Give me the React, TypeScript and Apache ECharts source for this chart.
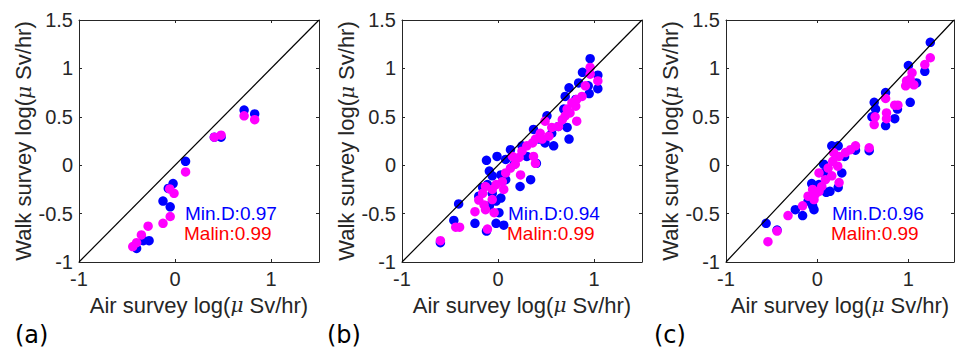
import React, { useEffect, useRef } from "react";
import * as echarts from "echarts";

const xTickLabels = ["-1", "0", "1"];
const yTickLabels = ["-1", "-0.5", "0", "0.5", "1", "1.5"];
const panelTags = ["(a)", "(b)", "(c)"];
const minDLabels = ["Min.D:0.97", "Min.D:0.94", "Min.D:0.96"];
const malinLabels = ["Malin:0.99", "Malin:0.99", "Malin:0.99"];

const diagonal: [number, number][] = [[-1, -1], [1.5, 1.5]];

const minD_a: [number, number][] = [
  [0.72, 0.57], [0.83, 0.53], [0.41, 0.29], [0.48, 0.29], [0.11, 0.04],
  [-0.02, -0.19], [-0.125, -0.37], [-0.05, -0.43], [-0.07, -0.24],
  [-0.27, -0.78], [-0.33, -0.78], [-0.40, -0.86],
];
const malin_a: [number, number][] = [
  [0.72, 0.51], [0.83, 0.47], [0.41, 0.29], [0.48, 0.31], [0.11, -0.07],
  [-0.055, -0.245], [-0.01, -0.29], [-0.05, -0.53], [-0.125, -0.6],
  [-0.28, -0.63], [-0.35, -0.72], [-0.40, -0.80], [-0.44, -0.84],
];

const minD_b: [number, number][] = [
  [0.96, 1.10], [0.88, 0.96], [1.04, 0.93], [1.04, 0.79], [0.74, 0.80],
  [0.70, 0.71], [0.95, 0.74], [0.94, 0.82], [0.685, 0.58], [0.51, 0.51],
  [0.72, 0.39], [0.74, 0.27], [0.37, 0.37], [0.25, 0.20], [0.13, 0.16],
  [0.43, 0.27], [0.58, 0.20], [0.49, 0.23], [0.40, 0.02], [0.30, 0.09],
  [0.17, 0.01], [0.23, -0.22], [0.34, -0.15], [-0.12, 0.05], [-0.01, 0.09],
  [-0.09, -0.06], [-0.06, -0.11], [0.08, 0.06], [0.03, -0.10], [-0.16, -0.23],
  [-0.11, -0.20], [-0.06, -0.29], [0.03, -0.34], [-0.02, -0.37], [-0.20, -0.32],
  [-0.09, -0.42], [-0.41, -0.40], [-0.46, -0.57], [-0.24, -0.60], [-0.12, -0.68],
  [-0.02, -0.60], [0.06, -0.62], [0.01, -0.49], [-0.60, -0.80], [0.08, -0.15],
  [0.63, 0.40], [0.56, 0.33], [0.81, 0.68], [0.84, 0.85],
];
const malin_b: [number, number][] = [
  [0.96, 1.01], [0.96, 0.94], [1.04, 0.87], [0.91, 0.82], [0.875, 0.71],
  [0.82, 0.68], [0.81, 0.61], [0.75, 0.54], [0.70, 0.51], [0.67, 0.47],
  [0.82, 0.455], [0.63, 0.40], [0.49, 0.455], [0.44, 0.33], [0.39, 0.27],
  [0.36, 0.23], [0.30, 0.20], [0.25, 0.145], [0.37, 0.09], [0.39, 0.02],
  [0.22, 0.08], [0.18, 0.01], [0.235, -0.10], [0.13, -0.03], [0.08, -0.08],
  [0.045, -0.17], [0.06, -0.25], [-0.02, -0.20], [-0.06, -0.25], [-0.13, -0.22],
  [-0.16, -0.29], [-0.20, -0.36], [-0.145, -0.41], [-0.13, -0.46], [-0.24, -0.48],
  [-0.04, -0.49], [-0.06, -0.355], [-0.44, -0.64], [-0.40, -0.64], [-0.11, -0.66],
  [-0.60, -0.78], [0.77, 0.645], [0.72, 0.58], [0.56, 0.39], [0.53, 0.30],
  [0.46, 0.27], [0.15, 0.09],
];

const minD_c: [number, number][] = [
  [1.24, 1.27], [1.0, 1.03], [1.18, 0.97], [1.09, 0.85], [1.02, 0.65],
  [0.75, 0.75], [0.625, 0.65], [0.64, 0.58], [0.85, 0.48], [0.75, 0.41],
  [0.88, 0.58], [0.60, 0.50], [0.42, 0.155], [0.57, 0.15], [0.16, 0.20],
  [0.23, 0.20], [0.30, 0.09], [0.27, -0.08], [0.23, -0.23], [0.07, 0.01],
  [0.10, -0.28], [0.14, -0.27], [-0.06, -0.19], [-0.05, -0.42], [-0.035, -0.46],
  [-0.10, -0.37], [-0.24, -0.46], [-0.16, -0.52], [-0.56, -0.60], [-0.44, -0.67],
  [0.07, -0.08], [0.02, -0.20],
];
const malin_c: [number, number][] = [
  [1.24, 1.11], [1.18, 1.04], [1.04, 0.955], [1.02, 0.89], [0.98, 0.87],
  [0.97, 0.82], [1.06, 0.83], [0.75, 0.69], [0.76, 0.54], [0.76, 0.48],
  [0.85, 0.62], [0.635, 0.50], [0.625, 0.42], [0.885, 0.62], [0.57, 0.18],
  [0.42, 0.20], [0.365, 0.16], [0.31, 0.13], [0.24, 0.09], [0.18, 0.13],
  [0.17, 0.04], [0.12, -0.03], [0.16, -0.11], [0.09, -0.15], [0.05, -0.22],
  [0.02, -0.27], [-0.02, -0.30], [-0.10, -0.32], [0.02, -0.08], [0.24, -0.18],
  [-0.035, -0.355], [-0.16, -0.42], [-0.32, -0.52], [-0.54, -0.79], [-0.44, -0.68],
  [-0.05, -0.25], [0.225, -0.01],
];

const minDSets = [minD_a, minD_b, minD_c];
const malinSets = [malin_a, malin_b, malin_c];

const AXIS_COLOR = "#262626";
const BLUE = "#0000ff";
const MAGENTA = "#ff00ff";
const RED = "#ff0000";
const FONT = "'Liberation Sans', Arial, Helvetica, sans-serif";

const gridLefts = [79, 402, 726];
const tagLefts = [15, 327, 654];
const annLefts = [185, 508, 832];

export default function App() {
  const ref = useRef<HTMLDivElement>(null);

  useEffect(() => {
    if (!ref.current) return;
    const chart = echarts.init(ref.current, undefined, { renderer: "svg" });

    const grids: any[] = [];
    const xAxes: any[] = [];
    const yAxes: any[] = [];
    const series: any[] = [];
    const graphics: any[] = [];

    const nameRich = {
      mu: { fontFamily: "'DejaVu Serif', serif", fontStyle: "italic", fontSize: 20, color: AXIS_COLOR },
    };

    gridLefts.forEach((left, i) => {
      grids.push({ left, top: 20, width: 240, height: 242, containLabel: false });
      const xBase = {
        type: "value", min: -1, max: 1.5, interval: 1, gridIndex: i,
        splitLine: { show: false },
        axisLine: { show: true, onZero: false, lineStyle: { color: AXIS_COLOR, width: 1 } },
        axisTick: { show: true, inside: true, length: 3, lineStyle: { color: AXIS_COLOR } },
      };
      const yBase = {
        type: "value", min: -1, max: 1.5, interval: 0.5, gridIndex: i,
        splitLine: { show: false },
        axisLine: { show: true, onZero: false, lineStyle: { color: AXIS_COLOR, width: 1 } },
        axisTick: { show: true, inside: true, length: 3, lineStyle: { color: AXIS_COLOR } },
      };
      xAxes.push({
        ...xBase, position: "bottom",
        axisLabel: {
          show: true, margin: 7, fontSize: 20, color: AXIS_COLOR, fontFamily: FONT,
          formatter: (v: number) => {
            const s = String(v);
            return xTickLabels.includes(s) ? s : "";
          },
        },
        name: "Air survey log({mu|μ} Sv/hr)",
        nameLocation: "middle", nameGap: 32,
        nameTextStyle: { fontSize: 22, color: AXIS_COLOR, fontFamily: FONT, rich: nameRich },
      });
      xAxes.push({ ...xBase, position: "top", axisLabel: { show: false } });
      yAxes.push({
        ...yBase, position: "left",
        axisLabel: {
          show: true, margin: 6, fontSize: 20, color: AXIS_COLOR, fontFamily: FONT,
          formatter: (v: number) => {
            const s = String(v);
            return yTickLabels.includes(s) ? s : "";
          },
        },
        name: "Walk survey log({mu|μ} Sv/hr)",
        nameLocation: "middle", nameGap: 44,
        nameTextStyle: { fontSize: 22, color: AXIS_COLOR, fontFamily: FONT, rich: nameRich },
      });
      yAxes.push({ ...yBase, position: "right", axisLabel: { show: false } });

      series.push({
        type: "line", data: diagonal, xAxisIndex: i * 2, yAxisIndex: i * 2,
        symbol: "none", lineStyle: { color: "#000", width: 1.2 }, silent: true,
      });
      series.push({
        type: "scatter", data: minDSets[i], xAxisIndex: i * 2, yAxisIndex: i * 2,
        symbol: "circle", symbolSize: 9.5, itemStyle: { color: BLUE, opacity: 1 },
      });
      series.push({
        type: "scatter", data: malinSets[i], xAxisIndex: i * 2, yAxisIndex: i * 2,
        symbol: "circle", symbolSize: 9.5, itemStyle: { color: MAGENTA, opacity: 1 },
      });

      graphics.push({
        type: "text", left: tagLefts[i], top: 323,
        style: { text: panelTags[i], fontSize: 24, fontFamily: "'DejaVu Sans', sans-serif", fill: "#000" },
      });
      graphics.push({
        type: "text", left: annLefts[i], top: 204,
        style: { text: minDLabels[i], fontSize: 19, lineHeight: 19, fontFamily: FONT, fill: BLUE },
      });
      graphics.push({
        type: "text", left: annLefts[i] - 1, top: 224,
        style: { text: malinLabels[i], fontSize: 19, lineHeight: 19, fontFamily: FONT, fill: RED },
      });
    });

    chart.setOption({
      animation: false,
      backgroundColor: "#ffffff",
      grid: grids,
      xAxis: xAxes,
      yAxis: yAxes,
      series,
      graphic: graphics,
    });

    return () => chart.dispose();
  }, []);

  return (
    <div
      ref={ref}
      style={{ position: "fixed", left: 0, top: 0, width: 957, height: 352, background: "#fff" }}
    />
  );
}
